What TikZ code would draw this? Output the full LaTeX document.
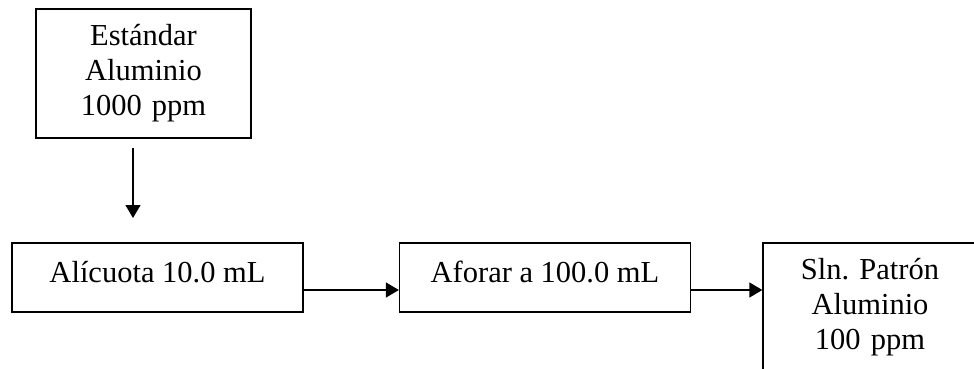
\documentclass[tikz,border=0pt]{standalone}
\usepackage{fontspec}
\setmainfont{Liberation Serif}
\usetikzlibrary{arrows.meta}
\begin{document}
\begin{tikzpicture}[x=1pt,y=-1pt,>={Triangle[width=15pt,length=13pt]},
  font=\fontsize{30.5}{35}\selectfont,
  tallbox/.style={draw,line width=1.3pt,inner sep=0pt,text width=200pt,align=center,minimum width=215pt,minimum height=129pt},
  widebox/.style={draw,line width=1.3pt,inner xsep=0pt,inner ysep=0pt,minimum width=291pt,text height=39pt,text depth=30pt}]
\useasboundingbox (0,0) rectangle (974,369);
\node[tallbox] (std) at (143.5,73.5) {Estándar\\Aluminio\\1000 ppm};
\node[widebox] (alic) at (157.5,277.5) {Alícuota 10.0 mL};
\node[widebox] (afo) at (545,277.5) {Aforar a 100.0 mL};
\node[tallbox,minimum width=214pt] (sln) at (870,307.5) {Sln.\ Patrón\\Aluminio\\100 ppm};
\coordinate (top) at (133,148);
\coordinate (bot) at (133,218);
\draw[->,line width=1.3pt](top)--(bot);
\draw[->,line width=1.3pt]([yshift=-12.5pt]alic.east)--([yshift=-12.5pt]alic.east-|afo.west);
\draw[->,line width=1.3pt]([yshift=-12.5pt]afo.east)--([yshift=-12.5pt]afo.east-|sln.west);
\end{tikzpicture}
\end{document}
